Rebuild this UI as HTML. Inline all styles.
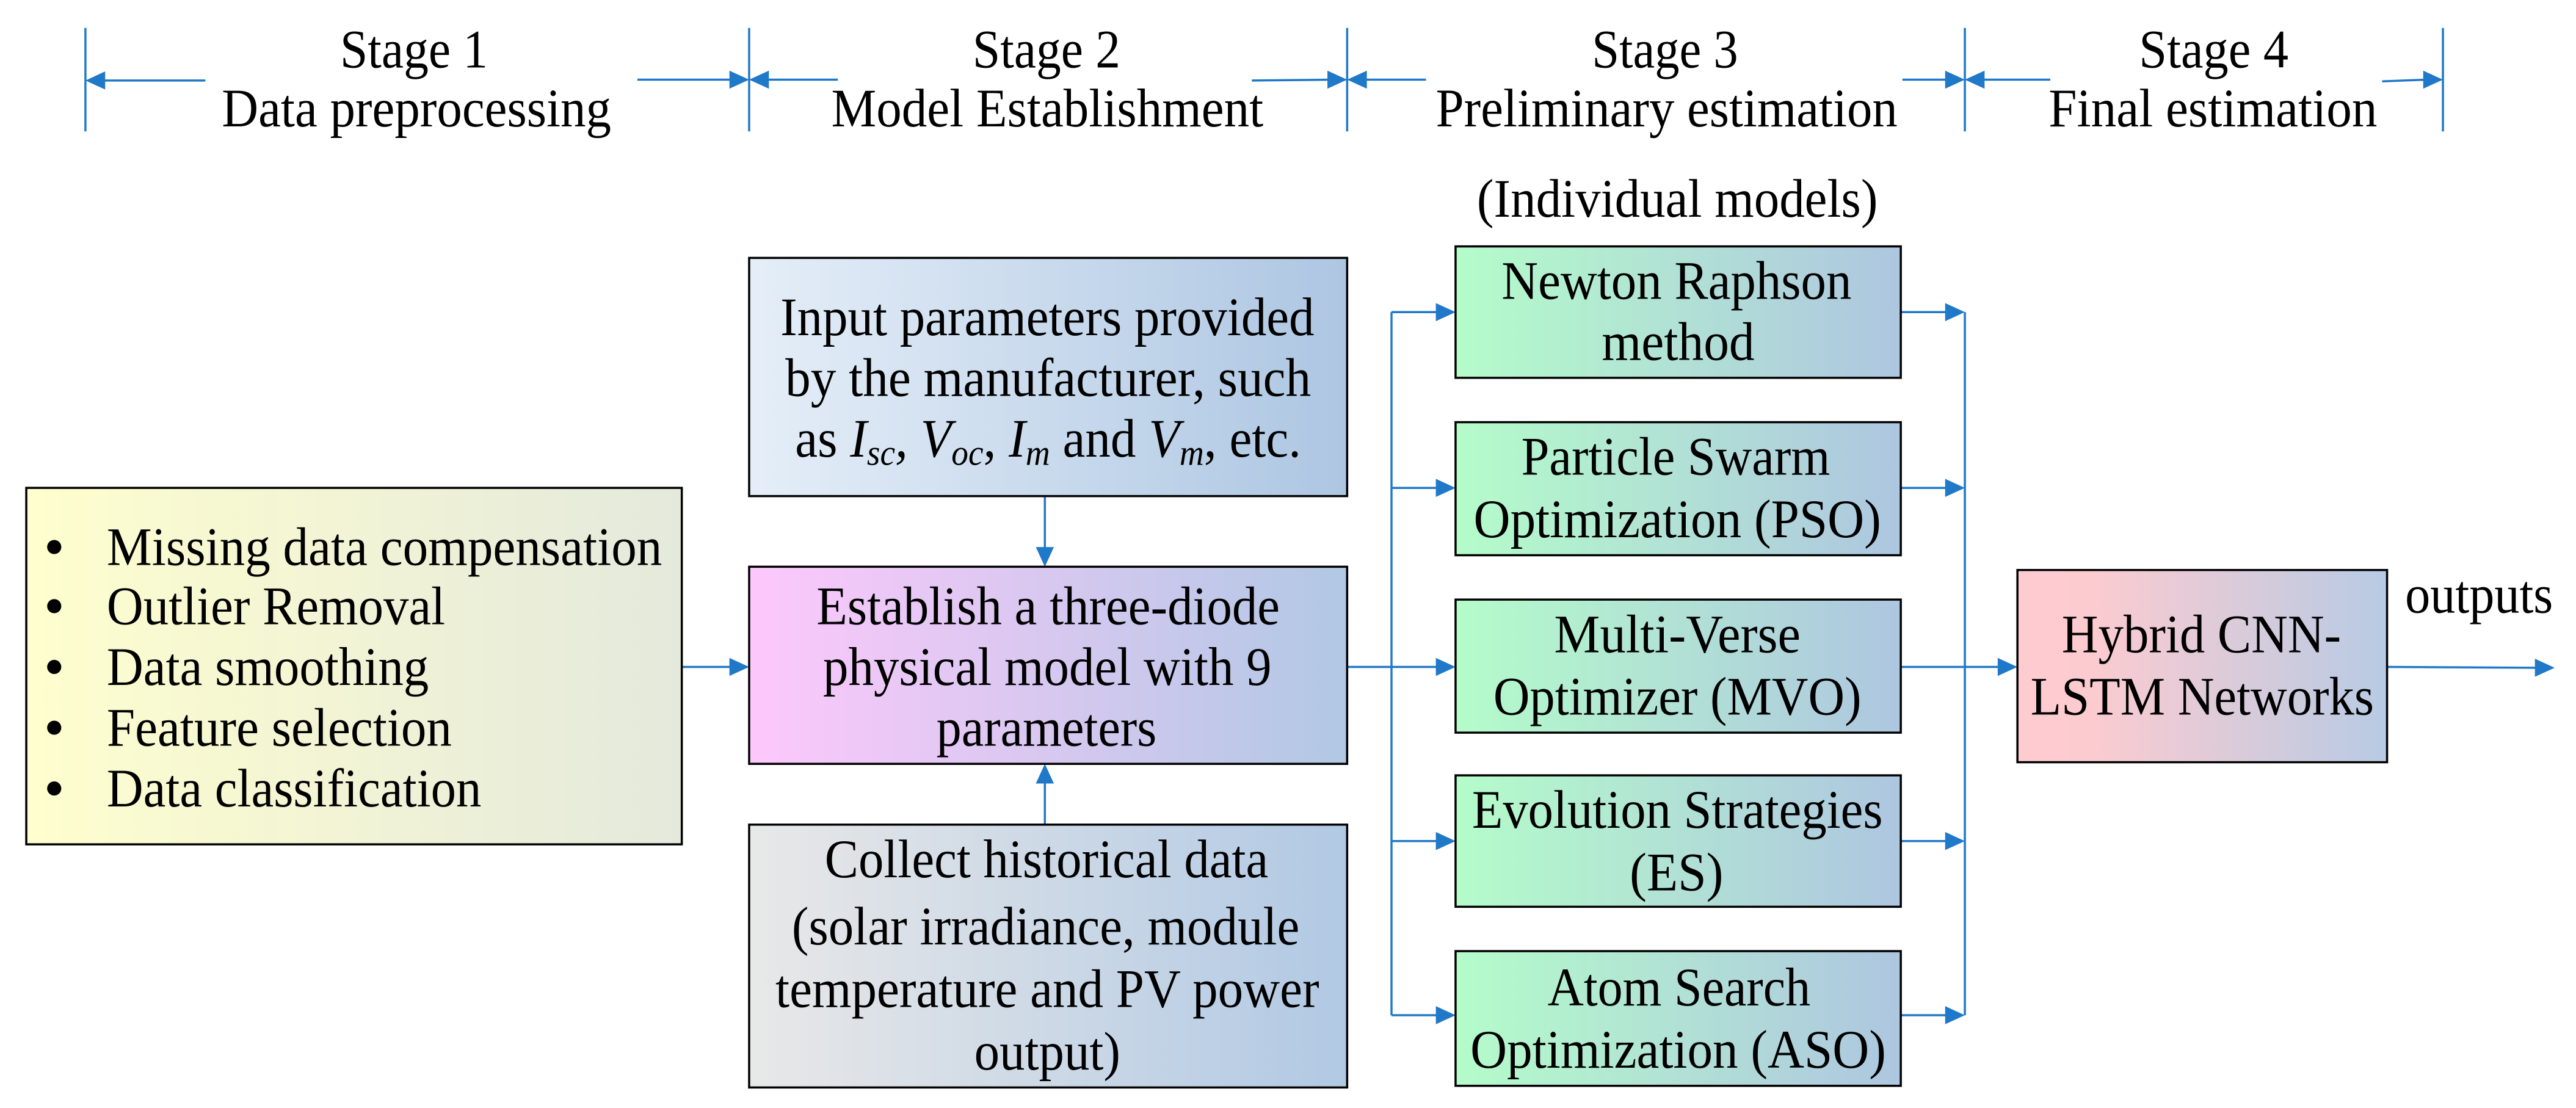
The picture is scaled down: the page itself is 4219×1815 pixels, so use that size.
<!DOCTYPE html>
<html><head><meta charset="utf-8"><style>html,body{margin:0;padding:0;background:#fff}svg{display:block}</style></head>
<body>
<svg width="4219" height="1815" viewBox="0 0 1568 674.5" preserveAspectRatio="none" xmlns="http://www.w3.org/2000/svg" font-family="'Liberation Serif', serif" font-size="33" fill="#000">
<defs>
<linearGradient id="gY"><stop offset="0" stop-color="#fefece"/><stop offset="1" stop-color="#e4e9dc"/></linearGradient>
<linearGradient id="gI"><stop offset="0" stop-color="#e5eef8"/><stop offset="1" stop-color="#adc6e2"/></linearGradient>
<linearGradient id="gP"><stop offset="0" stop-color="#fdc8fc"/><stop offset="1" stop-color="#b1c8e4"/></linearGradient>
<linearGradient id="gC"><stop offset="0" stop-color="#e8e8e8"/><stop offset="1" stop-color="#b1c9e4"/></linearGradient>
<linearGradient id="gG"><stop offset="0" stop-color="#b4fcca"/><stop offset="1" stop-color="#aec6e0"/></linearGradient>
<linearGradient id="gH"><stop offset="0" stop-color="#fecbd0"/><stop offset="0.2" stop-color="#fccbd0"/><stop offset="1" stop-color="#b7cbe4"/></linearGradient>
</defs>

<g stroke="#1f78c8" stroke-width="1.3" fill="none">
<!-- stage lines -->
<line x1="52" y1="17" x2="52" y2="80"/><line x1="456" y1="17" x2="456" y2="80"/>
<line x1="820" y1="17" x2="820" y2="80"/><line x1="1196" y1="17" x2="1196" y2="80"/>
<line x1="1487" y1="17" x2="1487" y2="80"/>
<line x1="62" y1="49" x2="125" y2="49"/><line x1="388" y1="48.5" x2="446" y2="48.5"/>
<line x1="466" y1="48.5" x2="510" y2="48.5"/><line x1="762" y1="49" x2="810" y2="48.5"/>
<line x1="830" y1="48.5" x2="868" y2="48.5"/><line x1="1158" y1="48.5" x2="1186" y2="48.5"/>
<line x1="1206" y1="48.5" x2="1248" y2="48.5"/><line x1="1450" y1="49.5" x2="1477" y2="48.5"/>
<!-- connectors -->
<line x1="636" y1="302" x2="636" y2="335"/><line x1="636" y1="502" x2="636" y2="475"/>
<line x1="415" y1="406" x2="446" y2="406"/>
<line x1="820" y1="406" x2="876" y2="406"/>
<line x1="847" y1="190" x2="847" y2="618"/>
<line x1="847" y1="190" x2="876" y2="190"/><line x1="847" y1="297" x2="876" y2="297"/>
<line x1="847" y1="512" x2="876" y2="512"/><line x1="847" y1="618" x2="876" y2="618"/>
<line x1="1196" y1="190" x2="1196" y2="618"/>
<line x1="1157" y1="190" x2="1186" y2="190"/><line x1="1157" y1="297" x2="1186" y2="297"/>
<line x1="1157" y1="512" x2="1186" y2="512"/><line x1="1157" y1="618" x2="1186" y2="618"/>
<line x1="1157" y1="406" x2="1218" y2="406"/>
<line x1="1453" y1="406" x2="1545" y2="406.5"/>
</g>
<g fill="#1f78c8">
<polygon points="52,49 64,43.5 64,54.5"/><polygon points="456,48.5 444,43 444,54"/>
<polygon points="456,48.5 468,43 468,54"/><polygon points="820,48.5 808,43 808,54"/>
<polygon points="820,48.5 832,43 832,54"/><polygon points="1196,48.5 1184,43 1184,54"/>
<polygon points="1196,48.5 1208,43 1208,54"/><polygon points="1487,48.5 1475,43 1475,54"/>
<polygon points="636,345 630.5,333 641.5,333"/><polygon points="636,465 630.5,477 641.5,477"/>
<polygon points="456,406 444,400.5 444,411.5"/>
<polygon points="886,190 874,184.5 874,195.5"/><polygon points="886,297 874,291.5 874,302.5"/>
<polygon points="886,406 874,400.5 874,411.5"/><polygon points="886,512 874,506.5 874,517.5"/>
<polygon points="886,618 874,612.5 874,623.5"/>
<polygon points="1196,190 1184,184.5 1184,195.5"/><polygon points="1196,297 1184,291.5 1184,302.5"/>
<polygon points="1196,512 1184,506.5 1184,517.5"/><polygon points="1196,618 1184,612.5 1184,623.5"/>
<polygon points="1228,406 1216,400.5 1216,411.5"/>
<polygon points="1555,406.5 1543,401 1543,412"/>
</g>

<g stroke="#000" stroke-width="1.3">
<rect x="16" y="297" width="399" height="217" fill="url(#gY)"/>
<rect x="456" y="157" width="364" height="145" fill="url(#gI)"/>
<rect x="456" y="345" width="364" height="120" fill="url(#gP)"/>
<rect x="456" y="502" width="364" height="160" fill="url(#gC)"/>
<rect x="886" y="150" width="271" height="80" fill="url(#gG)"/>
<rect x="886" y="257" width="271" height="81" fill="url(#gG)"/>
<rect x="886" y="365" width="271" height="81" fill="url(#gG)"/>
<rect x="886" y="472" width="271" height="80" fill="url(#gG)"/>
<rect x="886" y="579" width="271" height="82" fill="url(#gG)"/>
<rect x="1228" y="347" width="225" height="117" fill="url(#gH)"/>
</g>

<g lengthAdjust="spacingAndGlyphs">
<text x="207" y="41" textLength="90" lengthAdjust="spacingAndGlyphs">Stage 1</text>
<text x="135" y="77" textLength="237" lengthAdjust="spacingAndGlyphs">Data preprocessing</text>
<text x="592" y="41" textLength="90" lengthAdjust="spacingAndGlyphs">Stage 2</text>
<text x="506" y="77" textLength="263" lengthAdjust="spacingAndGlyphs">Model Establishment</text>
<text x="969" y="41" textLength="89" lengthAdjust="spacingAndGlyphs">Stage 3</text>
<text x="874" y="77" textLength="281" lengthAdjust="spacingAndGlyphs">Preliminary estimation</text>
<text x="1302" y="41" textLength="91" lengthAdjust="spacingAndGlyphs">Stage 4</text>
<text x="1247" y="77" textLength="200" lengthAdjust="spacingAndGlyphs">Final estimation</text>
<text x="899" y="132" textLength="244" lengthAdjust="spacingAndGlyphs">(Individual models)</text>

<circle cx="33" cy="333" r="4.3"/><circle cx="33" cy="369" r="4.3"/><circle cx="33" cy="406" r="4.3"/><circle cx="33" cy="443" r="4.3"/><circle cx="33" cy="480" r="4.3"/>
<text x="65" y="344" textLength="338" lengthAdjust="spacingAndGlyphs">Missing data compensation</text>
<text x="65" y="380" textLength="206" lengthAdjust="spacingAndGlyphs">Outlier Removal</text>
<text x="65" y="417" textLength="196" lengthAdjust="spacingAndGlyphs">Data smoothing</text>
<text x="65" y="454" textLength="210" lengthAdjust="spacingAndGlyphs">Feature selection</text>
<text x="65" y="491" textLength="228" lengthAdjust="spacingAndGlyphs">Data classification</text>

<text x="475" y="204" textLength="325" lengthAdjust="spacingAndGlyphs">Input parameters provided</text>
<text x="478" y="241" textLength="320" lengthAdjust="spacingAndGlyphs">by the manufacturer, such</text>
<text x="484" y="278" textLength="308" lengthAdjust="spacingAndGlyphs">as <tspan font-style="italic">I</tspan><tspan font-style="italic" font-size="22" dy="5">sc</tspan><tspan font-style="italic" dy="-5">, V</tspan><tspan font-style="italic" font-size="22" dy="5">oc</tspan><tspan dy="-5">, </tspan><tspan font-style="italic">I</tspan><tspan font-style="italic" font-size="22" dy="5">m</tspan><tspan dy="-5"> and </tspan><tspan font-style="italic">V</tspan><tspan font-style="italic" font-size="22" dy="5">m</tspan><tspan dy="-5">, etc.</tspan></text>

<text x="497" y="380" textLength="282" lengthAdjust="spacingAndGlyphs">Establish a three-diode</text>
<text x="501" y="417" textLength="273" lengthAdjust="spacingAndGlyphs">physical model with 9</text>
<text x="570" y="454" textLength="134" lengthAdjust="spacingAndGlyphs">parameters</text>

<text x="502" y="534" textLength="270" lengthAdjust="spacingAndGlyphs">Collect historical data</text>
<text x="482" y="575" textLength="309" lengthAdjust="spacingAndGlyphs">(solar irradiance, module</text>
<text x="472" y="613" textLength="331" lengthAdjust="spacingAndGlyphs">temperature and PV power</text>
<text x="593" y="651" textLength="89" lengthAdjust="spacingAndGlyphs">output)</text>

<text x="914" y="182" textLength="213" lengthAdjust="spacingAndGlyphs">Newton Raphson</text>
<text x="975" y="219" textLength="93" lengthAdjust="spacingAndGlyphs">method</text>
<text x="926" y="289" textLength="188" lengthAdjust="spacingAndGlyphs">Particle Swarm</text>
<text x="897" y="327" textLength="248" lengthAdjust="spacingAndGlyphs">Optimization (PSO)</text>
<text x="946" y="397" textLength="150" lengthAdjust="spacingAndGlyphs">Multi-Verse</text>
<text x="909" y="435" textLength="224" lengthAdjust="spacingAndGlyphs">Optimizer (MVO)</text>
<text x="896" y="504" textLength="250" lengthAdjust="spacingAndGlyphs">Evolution Strategies</text>
<text x="992" y="542" textLength="57" lengthAdjust="spacingAndGlyphs">(ES)</text>
<text x="942" y="612" textLength="160" lengthAdjust="spacingAndGlyphs">Atom Search</text>
<text x="895" y="650" textLength="253" lengthAdjust="spacingAndGlyphs">Optimization (ASO)</text>

<text x="1255" y="397" textLength="170" lengthAdjust="spacingAndGlyphs">Hybrid CNN-</text>
<text x="1236" y="435" textLength="209" lengthAdjust="spacingAndGlyphs">LSTM Networks</text>
<text x="1464" y="373" textLength="90" lengthAdjust="spacingAndGlyphs">outputs</text>
</g>
</svg>
</body></html>
